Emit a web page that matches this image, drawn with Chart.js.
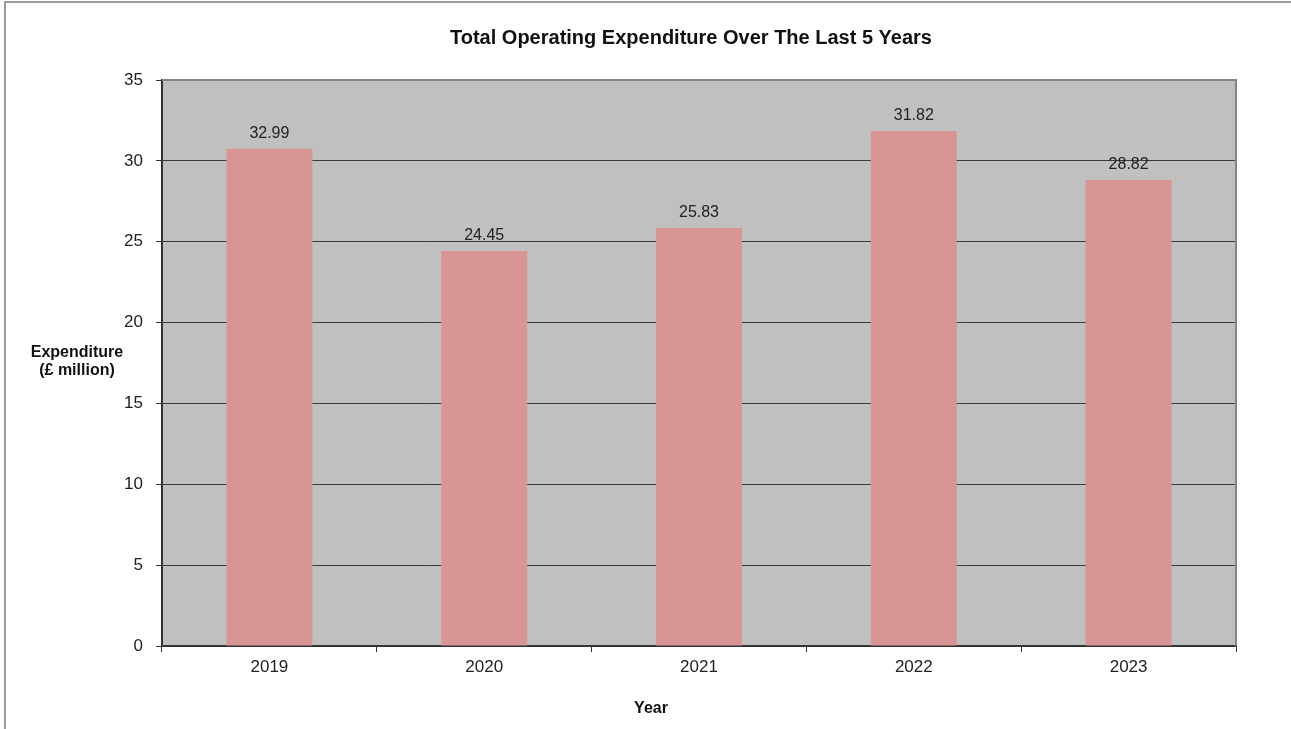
<!DOCTYPE html>
<html>
<head>
<meta charset="utf-8">
<script src="https://cdn.jsdelivr.net/npm/chart.js@4/dist/chart.umd.min.js"></script>
<style>
  html, body { margin: 0; padding: 0; background: #fff; }
  #wrap { width: 1291px; height: 729px; }
</style>
</head>
<body>
<div id="wrap"><canvas id="barChart" width="1291" height="729"></canvas></div>
<script>
// Data
const years = ['2019', '2020', '2021', '2022', '2023'];
const expenditure = [30.75, 24.43, 25.85, 31.85, 28.82];
// the printed labels don't all match the bar heights, keep them as printed
const valueLabels = ['32.99', '24.45', '25.83', '31.82', '28.82'];
const yTicks = [0, 5, 10, 15, 20, 25, 30, 35];

const FONT = '"Liberation Sans", Arial, sans-serif';

// Grey plot area, outer frame and the extra texts
const decor = {
    id: 'decor',
    beforeDraw(chart) {
        const { ctx, chartArea: a } = chart;
        ctx.save();
        ctx.fillStyle = '#c0c0c0';
        ctx.fillRect(a.left, a.top, a.right - a.left, a.bottom - a.top);
        // picture frame (left + top only)
        ctx.strokeStyle = '#9a9a9a';
        ctx.lineWidth = 2;
        ctx.beginPath();
        ctx.moveTo(5, 729);
        ctx.lineTo(5, 2);
        ctx.lineTo(1291, 2);
        ctx.stroke();
        ctx.restore();
    },
    afterDatasetsDraw(chart) {
        const { ctx } = chart;
        const meta = chart.getDatasetMeta(0);
        ctx.save();
        ctx.font = '16px ' + FONT;
        ctx.fillStyle = '#222';
        ctx.textAlign = 'center';
        ctx.textBaseline = 'alphabetic';
        meta.data.forEach((bar, i) => {
            ctx.fillText(valueLabels[i], bar.x, bar.y - 11);
        });
        ctx.restore();
    },
    afterDraw(chart) {
        const { ctx, chartArea: a } = chart;
        ctx.save();
        // top and right edges of the plot area
        ctx.strokeStyle = '#858585';
        ctx.lineWidth = 2;
        ctx.beginPath();
        ctx.moveTo(a.left, a.top);
        ctx.lineTo(a.right, a.top);
        ctx.lineTo(a.right, a.bottom);
        ctx.stroke();

        ctx.fillStyle = '#111';
        ctx.textAlign = 'center';
        ctx.font = 'bold 20px ' + FONT;
        ctx.fillText('Total Operating Expenditure Over The Last 5 Years', 691, 44);
        ctx.font = 'bold 16px ' + FONT;
        ctx.fillText('Expenditure', 77, 357);
        ctx.fillText('(£ million)', 77, 375);
        ctx.fillText('Year', 651, 713);
        ctx.restore();
    }
};

const barChart = new Chart(document.getElementById('barChart'), {
    type: 'bar',
    data: {
        labels: years,
        datasets: [{
            label: 'Expenditure',
            data: expenditure,
            backgroundColor: '#d99594',
            borderWidth: 0,
            barPercentage: 0.4,
            categoryPercentage: 1.0
        }]
    },
    options: {
        responsive: false,
        animation: false,
        layout: { padding: { top: 80, right: 55, left: 0, bottom: 0 } },
        plugins: {
            legend: { display: false },
            title: { display: false },
            tooltip: { enabled: false }
        },
        scales: {
            x: {
                afterFit: s => { s.height = 83; },
                grid: {
                    offset: true,
                    drawOnChartArea: false,
                    drawTicks: true,
                    tickLength: 6,
                    color: '#333'
                },
                border: { display: true, color: '#333', width: 2 },
                ticks: {
                    padding: 5,
                    color: '#222',
                    font: { family: FONT, size: 17 }
                }
            },
            y: {
                min: 0,
                max: 35,
                afterFit: s => { s.width = 162; },
                afterBuildTicks: s => { s.ticks = yTicks.map(v => ({ value: v })); },
                grid: {
                    color: ctx => (ctx.tick && ctx.tick.value === 35) ? 'rgba(0,0,0,0)' : '#3a3a3a',
                    tickColor: '#333',
                    tickLength: 6,
                    lineWidth: 1
                },
                border: { display: true, color: '#333', width: 2 },
                ticks: {
                    padding: 13,
                    color: '#222',
                    font: { family: FONT, size: 17 }
                }
            }
        }
    },
    plugins: [decor]
});
</script>
</body>
</html>
